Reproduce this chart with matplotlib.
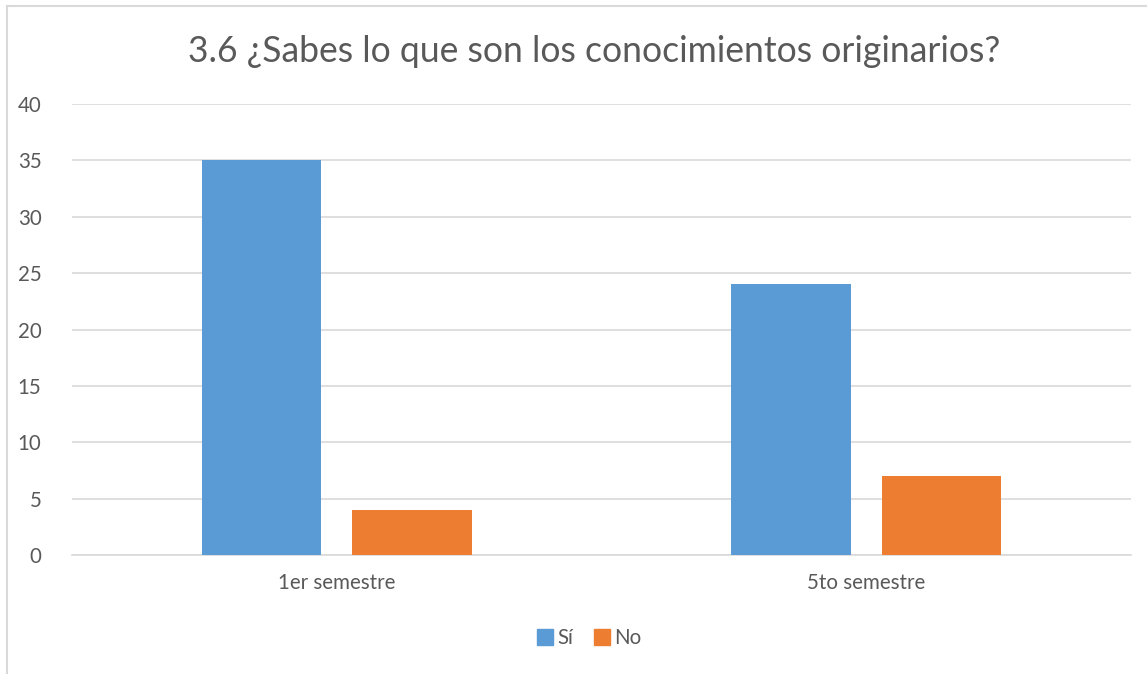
import numpy as np
import matplotlib
matplotlib.use('Agg')
import matplotlib.pyplot as plt
from matplotlib.lines import Line2D

plt.rcParams['font.family'] = ['Lato', 'DejaVu Sans']

### Data ###
categories = ['1er semestre', '5to semestre']
series_names = ['Sí', 'No']
si_values = [35, 24]
no_values = [4, 7]
y_ticks = [0, 5, 10, 15, 20, 25, 30, 35, 40]

colors = ['#5B9BD5', '#ED7D31']
textColor = '#595959'
gridColor = '#D9D9D9'

W, H = 1147, 674
fig = plt.figure(figsize=(W / 100, H / 100), dpi=100, facecolor='w')

ax = fig.add_axes([72 / W, (H - 555) / H, (1131 - 72) / W, (555 - 104) / H])

x = np.arange(len(categories))
barWidth = 0.225
offset = 0.142

ax.bar(x - offset, si_values, width=barWidth, color=colors[0], label=series_names[0], zorder=3)
ax.bar(x + offset, no_values, width=barWidth, color=colors[1], label=series_names[1], zorder=3)

ax.set_xlim(-0.5, len(categories) - 0.5)
ax.set_ylim(0, 40)
ax.set_yticks(y_ticks)
ax.set_xticks(x)
ax.set_xticklabels(categories)

ax.grid(axis='y', color=gridColor, linewidth=1.2, zorder=0)
for s in ['top', 'right', 'left']:
	ax.spines[s].set_visible(False)
ax.spines['bottom'].set_color(gridColor)
ax.spines['bottom'].set_linewidth(1.2)
ax.tick_params(axis='both', length=0, labelsize=14.8, colors=textColor)
ax.tick_params(axis='y', pad=22)
ax.tick_params(axis='x', pad=13)

fig.text(594 / W, (H - 52) / H, '3.6 ¿Sabes lo que son los conocimientos originarios?',
	ha='center', va='center', fontsize=25.6, color=textColor)

# legend
handles = [Line2D([0], [0], marker='s', linestyle='', markersize=12, color=c) for c in colors]
fig.legend(handles, series_names, loc='center', bbox_to_anchor=(588 / W, (H - 638) / H),
	ncol=2, frameon=False, fontsize=14.8, labelcolor=textColor,
	handletextpad=0.1, columnspacing=0.9, handlelength=1.0)

# chart area border
fig.add_artist(Line2D([7 / W, 7 / W], [0, (H - 6) / H], color=gridColor, linewidth=1.5, transform=fig.transFigure))
fig.add_artist(Line2D([7 / W, 1], [(H - 6) / H, (H - 6) / H], color=gridColor, linewidth=1.5, transform=fig.transFigure))

plt.savefig('out.png', dpi=100)
